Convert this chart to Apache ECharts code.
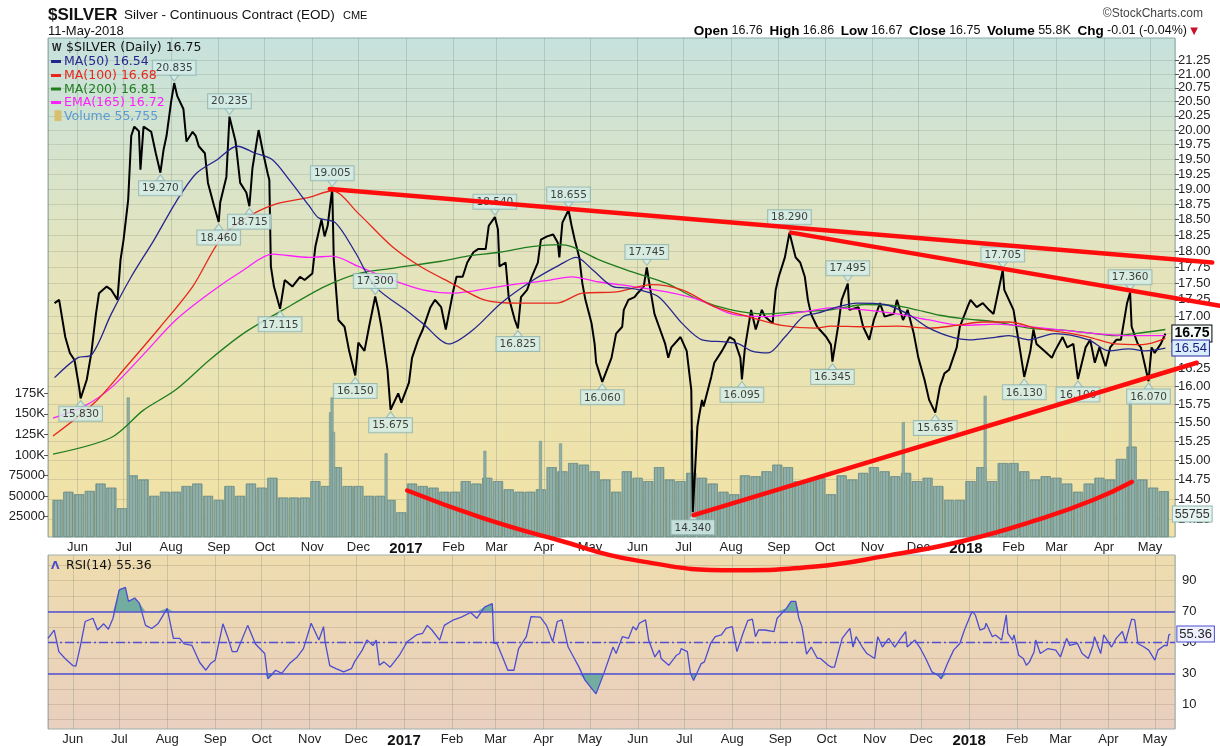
<!DOCTYPE html>
<html>
<head>
<meta charset="utf-8">
<title>$SILVER Daily</title>
<script src="https://cdn.jsdelivr.net/npm/echarts@6/dist/echarts.min.js"></script>
<style>
  html, body { margin: 0; padding: 0; background: #fff; }
  #chart { width: 1220px; height: 746px; }
</style>
</head>
<body>
<div id="chart"></div>
<script>
// values (daily silver, May 2016 - May 2018)
const closes = [
  ['2016-05-17',17.20],['2016-05-20',17.25],['2016-05-24',16.70],['2016-05-27',16.47],['2016-05-30',16.37],
  ['2016-06-02',15.99],['2016-06-03',15.83],['2016-06-07',16.09],['2016-06-10',16.47],['2016-06-13',17.04],
  ['2016-06-15',17.35],['2016-06-20',17.45],['2016-06-23',17.40],['2016-06-27',17.25],['2016-06-29',17.86],
  ['2016-07-01',18.18],['2016-07-04',18.82],['2016-07-06',19.90],['2016-07-08',20.06],['2016-07-11',19.98],
  ['2016-07-12',19.32],['2016-07-14',20.06],['2016-07-19',19.97],['2016-07-22',19.60],['2016-07-25',19.27],
  ['2016-07-27',19.65],['2016-07-29',19.90],['2016-08-01',20.50],['2016-08-03',20.835],['2016-08-05',20.60],
  ['2016-08-09',20.37],['2016-08-11',19.80],['2016-08-15',19.97],['2016-08-17',19.90],['2016-08-19',19.72],
  ['2016-08-23',19.60],['2016-08-25',19.10],['2016-08-29',18.72],['2016-09-01',18.46],['2016-09-02',18.78],
  ['2016-09-06',19.20],['2016-09-08',20.235],['2016-09-12',19.80],['2016-09-15',19.10],['2016-09-19',18.94],
  ['2016-09-21',18.715],['2016-09-23',19.35],['2016-09-27',20.00],['2016-09-30',19.60],['2016-10-03',19.25],
  ['2016-10-04',19.15],['2016-10-05',17.76],['2016-10-07',17.45],['2016-10-11',17.115],['2016-10-14',17.55],
  ['2016-10-19',17.45],['2016-10-24',17.60],['2016-10-27',17.55],['2016-11-01',17.65],['2016-11-03',18.07],
  ['2016-11-07',18.50],['2016-11-09',18.23],['2016-11-11',18.40],['2016-11-14',19.005],['2016-11-15',17.86],
  ['2016-11-17',17.25],['2016-11-18',16.95],['2016-11-22',16.85],['2016-11-25',16.50],['2016-11-29',16.15],
  ['2016-12-01',16.62],['2016-12-05',16.50],['2016-12-08',16.85],['2016-12-12',17.30],['2016-12-14',17.10],
  ['2016-12-16',16.85],['2016-12-20',16.23],['2016-12-22',15.675],['2016-12-27',15.90],['2016-12-29',15.77],
  ['2017-01-03',16.05],['2017-01-05',16.40],['2017-01-09',16.66],['2017-01-12',16.81],['2017-01-17',17.14],
  ['2017-01-20',17.25],['2017-01-24',17.14],['2017-01-27',16.81],['2017-02-01',17.40],['2017-02-03',17.60],
  ['2017-02-07',17.60],['2017-02-10',17.82],['2017-02-14',17.98],['2017-02-17',18.03],['2017-02-22',18.03],
  ['2017-02-24',18.40],['2017-02-28',18.54],['2017-03-02',18.34],['2017-03-03',17.76],['2017-03-07',17.82],
  ['2017-03-09',17.29],['2017-03-13',16.95],['2017-03-15',16.825],['2017-03-17',17.29],['2017-03-21',17.40],
  ['2017-03-24',17.60],['2017-03-28',17.82],['2017-03-30',18.18],['2017-04-03',18.23],['2017-04-07',18.26],
  ['2017-04-10',18.13],['2017-04-11',17.90],['2017-04-13',18.45],['2017-04-17',18.655],['2017-04-19',18.40],
  ['2017-04-21',18.18],['2017-04-24',17.90],['2017-04-26',17.50],['2017-04-28',17.25],['2017-05-02',16.90],
  ['2017-05-04',16.60],['2017-05-05',16.33],['2017-05-09',16.06],['2017-05-12',16.23],['2017-05-15',16.40],
  ['2017-05-18',16.75],['2017-05-22',16.85],['2017-05-23',17.10],['2017-05-26',17.25],['2017-05-30',17.29],
  ['2017-06-01',17.35],['2017-06-05',17.45],['2017-06-07',17.745],['2017-06-09',17.45],['2017-06-12',17.04],
  ['2017-06-15',16.85],['2017-06-19',16.60],['2017-06-21',16.40],['2017-06-23',16.55],['2017-06-29',16.70],
  ['2017-07-03',16.50],['2017-07-05',16.13],['2017-07-06',15.95],['2017-07-07',14.34],['2017-07-10',15.45],
  ['2017-07-11',15.58],['2017-07-13',15.81],['2017-07-14',15.72],['2017-07-19',16.13],['2017-07-21',16.33],
  ['2017-07-26',16.50],['2017-07-31',16.70],['2017-08-03',16.66],['2017-08-07',16.40],['2017-08-08',16.095],
  ['2017-08-10',16.55],['2017-08-14',17.10],['2017-08-17',16.81],['2017-08-21',17.10],['2017-08-23',17.00],
  ['2017-08-28',16.90],['2017-08-30',17.40],['2017-09-01',17.60],['2017-09-05',17.90],['2017-09-08',18.29],
  ['2017-09-12',17.90],['2017-09-15',17.82],['2017-09-18',17.60],['2017-09-20',17.25],['2017-09-22',17.04],
  ['2017-09-26',16.85],['2017-10-02',16.70],['2017-10-05',16.59],['2017-10-06',16.345],['2017-10-10',16.90],
  ['2017-10-12',17.25],['2017-10-16',17.495],['2017-10-17',17.10],['2017-10-23',17.14],['2017-10-26',16.85],
  ['2017-10-30',16.66],['2017-11-02',16.95],['2017-11-06',17.20],['2017-11-09',17.00],['2017-11-15',17.04],
  ['2017-11-17',17.25],['2017-11-21',16.95],['2017-11-24',17.10],['2017-11-28',16.75],['2017-12-01',16.40],
  ['2017-12-05',16.09],['2017-12-08',15.81],['2017-12-12',15.635],['2017-12-15',15.99],['2017-12-18',16.18],
  ['2017-12-21',16.23],['2017-12-26',16.55],['2017-12-28',16.85],['2018-01-02',17.14],['2018-01-04',17.25],
  ['2018-01-08',17.14],['2018-01-12',17.20],['2018-01-16',17.10],['2018-01-19',17.04],['2018-01-25',17.705],
  ['2018-01-26',17.40],['2018-01-29',17.25],['2018-02-01',17.10],['2018-02-05',16.55],['2018-02-08',16.13],
  ['2018-02-12',16.50],['2018-02-14',16.81],['2018-02-16',16.60],['2018-02-21',16.50],['2018-02-26',16.40],
  ['2018-02-28',16.50],['2018-03-05',16.70],['2018-03-08',16.55],['2018-03-12',16.60],['2018-03-15',16.10],
  ['2018-03-20',16.55],['2018-03-23',16.66],['2018-03-26',16.33],['2018-03-29',16.55],['2018-04-02',16.28],
  ['2018-04-05',16.55],['2018-04-09',16.66],['2018-04-12',16.66],['2018-04-16',17.20],['2018-04-18',17.36],
  ['2018-04-19',16.85],['2018-04-23',16.60],['2018-04-25',16.55],['2018-04-30',16.07],['2018-05-02',16.55],
  ['2018-05-04',16.47],['2018-05-08',16.60],['2018-05-11',16.75]
];

const ma50 = [
  ['2016-05-17',16.12],['2016-06-01',16.40],['2016-06-10',16.44],['2016-06-23',17.04],['2016-07-06',17.60],
  ['2016-07-21',18.18],['2016-08-04',18.78],['2016-08-17',19.25],['2016-08-31',19.49],['2016-09-13',19.72],
  ['2016-09-25',19.60],['2016-10-06',19.49],['2016-10-17',19.15],['2016-10-30',18.72],['2016-11-05',18.53],
  ['2016-11-16',18.45],['2016-11-29',17.98],['2016-12-12',17.45],['2017-01-02',17.08],['2017-01-12',16.90],
  ['2017-01-29',16.60],['2017-02-14',16.81],['2017-03-04',17.20],['2017-03-25',17.55],['2017-04-11',17.78],
  ['2017-04-22',17.90],['2017-05-03',17.70],['2017-05-16',17.45],['2017-05-25',17.43],['2017-06-02',17.40],
  ['2017-06-15',17.29],['2017-06-30',16.90],['2017-07-13',16.66],['2017-07-28',16.63],['2017-08-06',16.60],
  ['2017-08-14',16.50],['2017-08-25',16.47],['2017-09-05',16.70],['2017-09-17',17.00],['2017-09-26',17.05],
  ['2017-10-09',17.14],['2017-10-22',17.20],['2017-11-09',17.18],['2017-11-24',17.04],['2017-12-08',16.83],
  ['2017-12-24',16.69],['2018-01-03',16.66],['2018-01-21',16.70],['2018-01-29',16.72],['2018-02-11',16.66],
  ['2018-02-28',16.75],['2018-03-22',16.66],['2018-04-04',16.50],['2018-04-17',16.53],['2018-04-28',16.50],
  ['2018-05-11',16.54]
];

const ma100 = [
  ['2016-05-16',15.32],['2016-06-12',15.77],['2016-07-03',16.28],['2016-07-25',16.85],['2016-08-15',17.45],
  ['2016-09-02',18.18],['2016-09-17',18.50],['2016-10-08',18.75],['2016-10-30',18.86],['2016-11-14',18.97],
  ['2016-12-01',18.60],['2016-12-23',18.07],['2017-01-11',17.75],['2017-01-31',17.50],['2017-02-21',17.25],
  ['2017-03-15',17.20],['2017-04-09',17.20],['2017-04-26',17.35],['2017-05-18',17.37],['2017-06-10',17.48],
  ['2017-06-30',17.40],['2017-07-22',17.14],['2017-08-12',17.00],['2017-09-03',16.87],['2017-09-25',16.83],
  ['2017-10-05',16.86],['2017-10-27',16.85],['2017-11-17',16.86],['2017-12-08',16.83],['2017-12-26',16.87],
  ['2018-01-12',16.92],['2018-01-29',16.92],['2018-02-16',16.83],['2018-03-05',16.77],['2018-03-22',16.70],
  ['2018-04-08',16.60],['2018-04-26',16.59],['2018-05-11',16.68]
];

const ma200 = [
  ['2016-05-16',15.08],['2016-06-23',15.30],['2016-07-14',15.67],['2016-08-04',15.95],['2016-08-26',16.37],
  ['2016-09-17',16.75],['2016-10-13',17.10],['2016-11-09',17.45],['2016-12-01',17.65],['2016-12-23',17.73],
  ['2017-01-24',17.84],['2017-02-10',17.92],['2017-03-03',17.98],['2017-03-24',18.07],['2017-04-11',18.10],
  ['2017-04-19',18.07],['2017-05-07',17.86],['2017-05-29',17.67],['2017-06-20',17.50],['2017-07-11',17.25],
  ['2017-08-01',17.10],['2017-08-23',17.04],['2017-09-13',17.07],['2017-10-05',17.10],['2017-10-27',17.18],
  ['2017-11-17',17.16],['2017-11-30',17.10],['2017-12-15',17.02],['2017-12-30',16.97],['2018-01-21',16.92],
  ['2018-02-11',16.83],['2018-03-05',16.80],['2018-03-26',16.75],['2018-04-08',16.72],['2018-04-21',16.75],
  ['2018-05-11',16.81]
];

const ema165 = [
  ['2016-05-16',15.56],['2016-06-05',15.72],['2016-06-23',15.98],['2016-07-14',16.45],['2016-08-04',16.95],
  ['2016-08-26',17.35],['2016-09-17',17.70],['2016-10-06',17.95],['2016-10-30',17.90],['2016-11-14',17.92],
  ['2016-12-01',17.76],['2016-12-23',17.55],['2017-01-12',17.40],['2017-01-31',17.35],['2017-03-08',17.47],
  ['2017-04-05',17.55],['2017-04-19',17.60],['2017-05-07',17.52],['2017-05-29',17.45],['2017-06-20',17.37],
  ['2017-07-11',17.25],['2017-08-01',17.04],['2017-08-23',17.00],['2017-09-25',17.10],['2017-10-05',17.13],
  ['2017-10-27',17.10],['2017-11-17',17.04],['2017-12-08',16.95],['2017-12-30',16.87],['2018-01-21',16.89],
  ['2018-02-11',16.85],['2018-03-05',16.80],['2018-03-26',16.75],['2018-04-17',16.72],['2018-05-11',16.72]
];

// weekly volume (thousands of contracts), first week around 19 May 2016
const volStart = [2016, 4, 19];
const volWeekly = [
  45,55,52,56,65,60,35,75,70,50, 55,55,62,65,50,45,62,50,65,60,
  72,48,48,48,68,62,85,62,62,50, 50,45,30,65,62,60,55,55,68,65,
  72,68,58,55,55,58,85,80,90,88, 80,70,55,80,72,68,85,70,68,78,
  72,65,55,52,75,74,80,88,85,68, 68,72,52,75,70,78,85,80,74,78,
  68,72,62,45,45,68,85,68,90,90, 80,70,74,72,65,55,65,72,70,95,
  110,70,60,55.755
];
// single-day volume spikes (thousands)
const volSpikes = [
  ['2016-07-06',170],['2016-11-14',152],['2016-11-15',170],['2016-11-16',128],['2016-12-20',102],
  ['2017-02-22',105],['2017-03-30',117],['2017-04-12',114],['2017-07-06',130],['2017-11-20',140],
  ['2018-01-12',172],['2018-04-16',166]
];

const rsi14 = [
  ['2016-05-16',52.6],['2016-05-20',58],['2016-05-23',44],['2016-05-27',39.6],['2016-06-01',35],['2016-06-03',34.6],
  ['2016-06-06',48],['2016-06-09',63.5],['2016-06-14',65.6],['2016-06-17',58],['2016-06-21',62],['2016-06-24',58.5],
  ['2016-06-27',65.6],['2016-07-01',84],['2016-07-05',85.6],['2016-07-07',76.5],['2016-07-11',78.7],['2016-07-14',75.4],
  ['2016-07-18',61],['2016-07-22',59],['2016-07-26',62],['2016-08-01',72],['2016-08-05',52.6],['2016-08-09',52.6],
  ['2016-08-12',49],['2016-08-17',48],['2016-08-22',37],['2016-08-26',32],['2016-08-29',36.3],['2016-09-01',38.5],
  ['2016-09-06',62],['2016-09-09',53.7],['2016-09-12',44],['2016-09-15',44],['2016-09-22',61],['2016-09-27',49],
  ['2016-10-03',42.8],['2016-10-05',26.5],['2016-10-10',32],['2016-10-14',30],['2016-10-19',36.3],['2016-10-24',40.6],
  ['2016-10-28',46],['2016-11-02',62.4],['2016-11-07',51.5],['2016-11-10',60.2],['2016-11-11',50.4],['2016-11-14',35],
  ['2016-11-18',33],['2016-11-23',30.9],['2016-11-28',33],['2016-11-30',37.4],['2016-12-05',45],['2016-12-08',51.5],
  ['2016-12-12',48],['2016-12-14',51.5],['2016-12-16',35.2],['2016-12-19',37.4],['2016-12-23',34],['2016-12-29',41.7],
  ['2017-01-03',50.4],['2017-01-09',54.8],['2017-01-13',55.9],['2017-01-16',61],['2017-01-19',58],['2017-01-24',51.5],
  ['2017-01-27',61],['2017-02-02',64.6],['2017-02-07',66.3],['2017-02-13',69.3],['2017-02-17',65.6],['2017-02-22',72.8],
  ['2017-02-27',75],['2017-02-28',49.3],['2017-03-02',49.3],['2017-03-06',39.6],['2017-03-09',32],['2017-03-13',32],
  ['2017-03-16',46],['2017-03-21',53.7],['2017-03-24',66.7],['2017-03-30',66.3],['2017-04-03',61],['2017-04-07',50.4],
  ['2017-04-10',63.5],['2017-04-13',64.6],['2017-04-17',47],['2017-04-21',39.6],['2017-04-24',34],['2017-04-28',25.4],
  ['2017-05-05',16.7],['2017-05-10',29.8],['2017-05-16',47],['2017-05-18',42.8],['2017-05-22',53.7],['2017-05-26',52.6],
  ['2017-05-29',60.2],['2017-05-31',58],['2017-06-02',62.4],['2017-06-06',64.6],['2017-06-08',51.5],['2017-06-12',40.6],
  ['2017-06-15',45],['2017-06-16',39.6],['2017-06-21',35.2],['2017-06-26',41.7],['2017-06-28',42.8],['2017-06-29',46],
  ['2017-07-03',44],['2017-07-05',30],['2017-07-07',25.4],['2017-07-10',32],['2017-07-12',36.3],['2017-07-14',37.4],
  ['2017-07-18',49.3],['2017-07-21',53.7],['2017-07-25',54.8],['2017-07-28',59],['2017-08-01',60.2],['2017-08-04',44],
  ['2017-08-08',55.9],['2017-08-11',64],['2017-08-14',65],['2017-08-16',53.7],['2017-08-18',58],['2017-08-22',58],
  ['2017-08-28',57],['2017-08-30',65.6],['2017-09-05',72],['2017-09-08',76.5],['2017-09-11',76.5],['2017-09-13',65.6],
  ['2017-09-15',60.2],['2017-09-18',42.4],['2017-09-21',47],['2017-09-25',39.6],['2017-09-27',39.6],['2017-10-02',35.2],
  ['2017-10-04',34],['2017-10-06',34],['2017-10-11',52.6],['2017-10-16',59],['2017-10-18',47],['2017-10-20',53.7],
  ['2017-10-24',47],['2017-10-27',42.8],['2017-11-01',39.6],['2017-11-03',53.7],['2017-11-06',47],['2017-11-10',52.6],
  ['2017-11-14',47],['2017-11-17',51.5],['2017-11-21',57],['2017-11-22',47],['2017-11-27',51.5],['2017-11-30',47],
  ['2017-12-04',39.6],['2017-12-08',30.9],['2017-12-12',28.7],['2017-12-14',26.5],['2017-12-18',36.3],['2017-12-22',45],
  ['2017-12-26',49.3],['2017-12-29',58],['2018-01-02',67.8],['2018-01-03',70],['2018-01-05',67.8],['2018-01-08',58],
  ['2018-01-11',59],['2018-01-12',62.4],['2018-01-16',53.7],['2018-01-18',54.8],['2018-01-22',51.5],['2018-01-25',67.8],
  ['2018-01-26',55.9],['2018-01-29',51.5],['2018-01-30',54.8],['2018-02-02',41.7],['2018-02-05',39.6],['2018-02-07',35.2],
  ['2018-02-09',37.4],['2018-02-12',44],['2018-02-13',51.5],['2018-02-16',42.8],['2018-02-21',46],['2018-02-26',45],
  ['2018-03-01',40.6],['2018-03-05',52.6],['2018-03-07',48],['2018-03-12',49.3],['2018-03-15',42.8],['2018-03-19',39.6],
  ['2018-03-22',48],['2018-03-23',53.7],['2018-03-27',42.8],['2018-03-29',54.8],['2018-04-03',47],['2018-04-06',52.6],
  ['2018-04-10',57],['2018-04-12',50.4],['2018-04-16',65],['2018-04-18',64.6],['2018-04-20',49.3],['2018-04-24',47],
  ['2018-04-27',45],['2018-05-01',38.5],['2018-05-03',45],['2018-05-07',48],['2018-05-09',48],['2018-05-10',54.8],
  ['2018-05-11',55.36]
];

const pivotHighs = [
  ['2016-08-03',20.835],['2016-09-08',20.235],['2016-11-14',19.005],['2016-12-12',17.300],['2017-02-28',18.540],
  ['2017-04-17',18.655],['2017-06-07',17.745],['2017-09-08',18.290],['2017-10-16',17.495],['2018-01-25',17.705],
  ['2018-04-18',17.360]
];
const pivotLows = [
  ['2016-06-03',15.830],['2016-07-25',19.270],['2016-09-01',18.460],['2016-09-21',18.715],['2016-10-11',17.115],
  ['2016-11-29',16.150],['2016-12-22',15.675],['2017-03-15',16.825],['2017-05-09',16.060],['2017-07-07',14.340],
  ['2017-08-08',16.095],['2017-10-06',16.345],['2017-12-12',15.635],['2018-02-08',16.130],['2018-03-15',16.100],
  ['2018-04-30',16.070]
];

// hand-drawn annotations (date, price), they run past the last bar
const trendTop = [['2016-11-14',19.00],['2018-06-07',17.82]];
const trendMid = [['2017-09-08',18.29],['2018-06-12',17.16]];
const trendLow = [['2017-07-07',14.30],['2018-05-28',16.33]];
const volArc = [
  ['2017-01-03',14.61],['2017-02-20',14.27],['2017-04-11',13.99],['2017-05-30',13.75],['2017-08-04',13.63],
  ['2017-09-22',13.67],['2017-11-11',13.81],['2017-12-30',13.99],['2018-02-17',14.26],['2018-03-22',14.49],
  ['2018-04-16',14.72]
];

const priceTicks = [14.25,14.5,14.75,15,15.25,15.5,15.75,16,16.25,16.5,16.75,17,17.25,17.5,17.75,
  18,18.25,18.5,18.75,19,19.25,19.5,19.75,20,20.25,20.5,20.75,21,21.25];
const volTicks = [25000,50000,75000,100000,125000,150000,175000];
const rsiLabels = [10,30,50,70,90];
const rsiLines = [0,10,20,30,40,50,60,70,80,90,100];

const xMin = '2016-05-16';
const xMax = '2018-05-14';
const xMaxWide = '2018-06-12'; // same day width, carried out to the right edge of the page
const yMin = 14.03;
const yMax = 21.67;
const SANS = '"Liberation Sans", Arial, sans-serif';
const DEJA = '"DejaVu Sans", Verdana, sans-serif';

const volData = volWeekly.map((v, i) => {
  const t = new Date(volStart[0], volStart[1], volStart[2] + i * 7).getTime();
  return [t, Math.round(v * 1000)];
});
const lastVol = volData[volData.length - 1];
volData[volData.length - 1] = {
  value: lastVol,
  label: {
    show: true, position: 'right', distance: 4, formatter: String(lastVol[1]),
    fontFamily: SANS, fontSize: 12.5, color: '#333', backgroundColor: '#e6f4f1',
    borderColor: '#8fb5ae', borderWidth: 1, padding: [1, 2]
  }
};
const spikeData = volSpikes.map(d => [d[0], d[1] * 1000]);
const rsiHigh = rsi14.map(d => [d[0], Math.max(d[1], 70)]);
const rsiLow = rsi14.map(d => [d[0], Math.min(d[1], 30)]);

const timeLabel = {
  color: '#222', fontFamily: SANS, fontSize: 13, margin: 4,
  showMinLabel: false, showMaxLabel: false,
  formatter: { year: '{yr|{yyyy}}', month: '{MMM}', day: '', hour: '', minute: '', second: '', millisecond: '' },
  rich: { yr: { fontWeight: 'bold', fontSize: 15, color: '#111', fontFamily: SANS } }
};
const vGrid = { show: true, lineStyle: { color: 'rgba(120,140,125,0.30)', width: 1 } };

const volBarStyle = {
  color: '#8fafa7', borderColor: '#6f918a', borderWidth: 0.6,
  decal: { symbol: 'rect', symbolSize: 1, dashArrayX: [1, 1.3], dashArrayY: [4, 0], color: 'rgba(75,105,98,0.30)' }
};

function lineSeries(name, data, color, width, z) {
  return {
    name, type: 'line', xAxisIndex: 0, yAxisIndex: 0, data, z,
    symbol: 'none', smooth: 0.3, silent: true,
    lineStyle: { color, width }
  };
}

function pivotSeries(points, high) {
  return {
    type: 'scatter', xAxisIndex: 0, yAxisIndex: 0, z: 5, silent: true,
    symbol: 'triangle', symbolSize: [9, 6], symbolRotate: high ? 180 : 0,
    symbolOffset: [0, high ? -5 : 5],
    itemStyle: { color: '#d4eeea', borderColor: '#8fb3ae', borderWidth: 1 },
    label: {
      show: true, position: high ? 'top' : 'bottom', distance: 0,
      formatter: p => p.value[1].toFixed(3),
      fontFamily: DEJA, fontSize: 10.5, color: '#111',
      backgroundColor: '#d4eeea', borderColor: '#8fb3ae', borderWidth: 1, padding: [2, 3, 1, 3]
    },
    data: points
  };
}

function redLine(data, smooth) {
  return {
    type: 'line', xAxisIndex: 3, yAxisIndex: 3, data, z: 8, clip: false, silent: true,
    symbol: 'none', smooth: smooth ? 0.5 : false,
    lineStyle: { color: '#ff0d0d', width: 4.5, cap: 'round' }
  };
}

const chart = echarts.init(document.getElementById('chart'));

chart.setOption({
  animation: false,
  backgroundColor: '#ffffff',
  grid: [
    {
      left: 48, top: 38, width: 1127, height: 499, show: true, containLabel: false, outerBoundsMode: 'none',
      borderColor: '#90aaa6', borderWidth: 1,
      backgroundColor: new echarts.graphic.LinearGradient(0, 0, 0, 1, [
        { offset: 0, color: '#c6e2dd' }, { offset: 0.45, color: '#e4e4bd' }, { offset: 1, color: '#f3e2a3' }
      ])
    },
    {
      left: 48, top: 555, width: 1127, height: 174, show: true, containLabel: false, outerBoundsMode: 'none',
      borderColor: '#9fb0ae', borderWidth: 1,
      backgroundColor: new echarts.graphic.LinearGradient(0, 0, 0, 1, [
        { offset: 0, color: '#eedcae' }, { offset: 1, color: '#e9cfbf' }
      ])
    },
    // wider twin of the price panel for the hand-drawn lines that run past the axis
    { left: 48, top: 38, width: 1172, height: 499, show: false, containLabel: false, outerBoundsMode: 'none' }
  ],
  xAxis: [
    { type: 'time', gridIndex: 0, min: xMin, max: xMax, splitNumber: 24, minInterval: 28 * 86400000,
      axisLine: { show: false }, axisTick: { show: false }, axisLabel: timeLabel, splitLine: vGrid },
    { type: 'time', gridIndex: 1, min: xMin, max: xMax, splitNumber: 24, minInterval: 28 * 86400000,
      axisLine: { show: false }, axisTick: { show: false }, axisLabel: timeLabel, splitLine: vGrid },
    { type: 'time', gridIndex: 0, min: xMin, max: xMax, show: false },
    { type: 'time', gridIndex: 2, min: xMin, max: xMaxWide, show: false }
  ],
  yAxis: [
    {
      type: 'log', gridIndex: 0, position: 'right', min: yMin, max: yMax, logBase: 10,
      axisLine: { show: false },
      axisTick: { show: true, customValues: priceTicks, length: 4, lineStyle: { color: '#555' } },
      axisLabel: { customValues: priceTicks, formatter: v => v.toFixed(2), color: '#222',
        fontFamily: SANS, fontSize: 13, margin: 3 },
      splitLine: { show: true, lineStyle: { color: 'rgba(130,140,120,0.25)', width: 1 } }
    },
    {
      type: 'value', gridIndex: 0, position: 'left', min: 0, max: 608000,
      axisLine: { show: false },
      axisTick: { show: true, customValues: volTicks, length: 4, lineStyle: { color: '#555' } },
      axisLabel: { customValues: volTicks, color: '#222', fontFamily: SANS, fontSize: 13, margin: 3,
        formatter: v => (v >= 100000 ? (v / 1000) + 'K' : String(v)) },
      splitLine: { show: false }
    },
    {
      type: 'value', gridIndex: 1, position: 'right', min: -6, max: 106.5,
      axisLine: { show: false },
      axisTick: { show: true, customValues: rsiLines, length: 0 },
      axisLabel: { customValues: rsiLabels, color: '#222', fontFamily: SANS, fontSize: 13, margin: 7 },
      splitLine: { show: true, lineStyle: { color: 'rgba(150,130,110,0.28)', width: 1 } }
    },
    { type: 'log', gridIndex: 2, min: yMin, max: yMax, logBase: 10, show: false }
  ],
  series: [
    {
      name: 'Volume', type: 'bar', xAxisIndex: 0, yAxisIndex: 1, data: volData, z: 1, silent: true,
      barWidth: 10, itemStyle: volBarStyle
    },
    {
      name: 'Volume spikes', type: 'bar', xAxisIndex: 2, yAxisIndex: 1, data: spikeData, z: 1, silent: true,
      barWidth: 3, itemStyle: { color: '#8fafa7', borderColor: '#6f918a', borderWidth: 0.6 }
    },
    {
      name: '$SILVER', type: 'line', xAxisIndex: 0, yAxisIndex: 0, data: closes, z: 2, silent: true,
      symbol: 'none', lineStyle: { color: '#000', width: 2 },
      endLabel: { show: true, formatter: '16.75', distance: 7, fontFamily: SANS, fontSize: 14,
        fontWeight: 'bold', color: '#000', backgroundColor: '#f4fbf8', borderColor: '#000',
        borderWidth: 1, padding: [1, 2] }
    },
    lineSeries('MA(200)', ma200, '#1f7d1f', 1.3, 3),
    lineSeries('EMA(165)', ema165, '#ff1eff', 1.3, 3),
    lineSeries('MA(100)', ma100, '#e8261c', 1.3, 3),
    Object.assign(lineSeries('MA(50)', ma50, '#25258f', 1.3, 3), {
      endLabel: { show: true, formatter: '16.54', distance: 7, fontFamily: SANS, fontSize: 13,
        color: '#1a1a80', backgroundColor: '#d8eefa', borderColor: '#2b2ba8', borderWidth: 1, padding: [1, 2] }
    }),
    pivotSeries(pivotHighs, true),
    pivotSeries(pivotLows, false),
    redLine(trendTop),
    redLine(trendMid),
    redLine(trendLow),
    redLine(volArc, true),
    {
      name: 'RSI>70', type: 'line', xAxisIndex: 1, yAxisIndex: 2, data: rsiHigh, z: 1, silent: true,
      symbol: 'none', lineStyle: { width: 0 }, areaStyle: { origin: 70, color: '#72ad9f', opacity: 1 }
    },
    {
      name: 'RSI<30', type: 'line', xAxisIndex: 1, yAxisIndex: 2, data: rsiLow, z: 1, silent: true,
      symbol: 'none', lineStyle: { width: 0 }, areaStyle: { origin: 30, color: '#72ad9f', opacity: 1 }
    },
    {
      name: 'RSI(14)', type: 'line', xAxisIndex: 1, yAxisIndex: 2, data: rsi14, z: 3, silent: true,
      symbol: 'none', lineStyle: { color: '#4c4cd2', width: 1.3 },
      endLabel: { show: true, formatter: '55.36', distance: 7, fontFamily: SANS, fontSize: 13,
        color: '#222', backgroundColor: '#eef0ff', borderColor: '#4c4cd2', borderWidth: 1, padding: [1, 2] },
      markLine: {
        silent: true, symbol: 'none', label: { show: false },
        lineStyle: { color: '#5050d4', width: 1.6, type: 'solid' },
        data: [
          { yAxis: 70 }, { yAxis: 30 },
          { yAxis: 50, lineStyle: { type: [9, 3, 2, 3], width: 1.4 } }
        ]
      }
    }
  ],
  graphic: [
    { type: 'text', x: 48, y: 15, z: 100, style: { text: '$SILVER', font: 'bold 17px ' + SANS, fill: '#111', textVerticalAlign: 'middle' } },
    { type: 'text', x: 124, y: 15, z: 100, style: { text: 'Silver - Continuous Contract (EOD)', font: '13.5px ' + SANS, fill: '#111', textVerticalAlign: 'middle' } },
    { type: 'text', x: 343, y: 15.5, z: 100, style: { text: 'CME', font: '11px ' + SANS, fill: '#111', textVerticalAlign: 'middle' } },
    { type: 'text', x: 48, y: 31, z: 100, style: { text: '11-May-2018', font: '13px ' + SANS, fill: '#111', textVerticalAlign: 'middle' } },
    { type: 'text', x: 1203, y: 14, z: 100, style: { text: '\u00a9StockCharts.com', font: '12px ' + SANS, fill: '#444', textAlign: 'right', textVerticalAlign: 'middle' } },
    {
      type: 'text', x: 1198, y: 31, z: 100,
      style: {
        text: '{b|Open} {n|16.76}  {b|High} {n|16.86}  {b|Low} {n|16.67}  {b|Close} {n|16.75}  {b|Volume} {n|55.8K}  {b|Chg} {n|-0.01 (-0.04%)} {r|\u25bc}',
        textAlign: 'right', textVerticalAlign: 'middle',
        rich: {
          b: { fontFamily: SANS, fontSize: 13.5, fontWeight: 'bold', fill: '#000' },
          n: { fontFamily: SANS, fontSize: 12.5, fill: '#111' },
          r: { fontFamily: DEJA, fontSize: 10, fill: '#c8102e' }
        }
      }
    },
    // panel legends
    { type: 'text', x: 52, y: 48, z: 100, style: { text: 'W', font: 'bold 10px ' + SANS, fill: '#222', textVerticalAlign: 'middle' } },
    { type: 'text', x: 66, y: 48, z: 100, style: { text: '$SILVER (Daily) 16.75', font: '12.5px ' + DEJA, fill: '#111', textVerticalAlign: 'middle' } },
    { type: 'rect', z: 100, shape: { x: 51, y: 60, width: 10, height: 3 }, style: { fill: '#25258f' } },
    { type: 'text', x: 64, y: 62, z: 100, style: { text: 'MA(50) 16.54', font: '12.5px ' + DEJA, fill: '#25258f', textVerticalAlign: 'middle' } },
    { type: 'rect', z: 100, shape: { x: 51, y: 74, width: 10, height: 3 }, style: { fill: '#e8261c' } },
    { type: 'text', x: 64, y: 76, z: 100, style: { text: 'MA(100) 16.68', font: '12.5px ' + DEJA, fill: '#e8261c', textVerticalAlign: 'middle' } },
    { type: 'rect', z: 100, shape: { x: 51, y: 87.5, width: 10, height: 3 }, style: { fill: '#1f7d1f' } },
    { type: 'text', x: 64, y: 89.5, z: 100, style: { text: 'MA(200) 16.81', font: '12.5px ' + DEJA, fill: '#1f7d1f', textVerticalAlign: 'middle' } },
    { type: 'rect', z: 100, shape: { x: 51, y: 101, width: 10, height: 3 }, style: { fill: '#ff1eff' } },
    { type: 'text', x: 64, y: 103, z: 100, style: { text: 'EMA(165) 16.72', font: '12.5px ' + DEJA, fill: '#ff1eff', textVerticalAlign: 'middle' } },
    { type: 'text', x: 51, y: 116.5, z: 100, style: { text: '\u2590\u258c', font: '9px ' + DEJA, fill: '#d8c070', textVerticalAlign: 'middle' } },
    { type: 'text', x: 64, y: 116.5, z: 100, style: { text: 'Volume 55,755', font: '12.5px ' + DEJA, fill: '#5b9bd0', textVerticalAlign: 'middle' } },
    { type: 'text', x: 66, y: 566, z: 100, style: { text: 'RSI(14) 55.36', font: '12.5px ' + DEJA, fill: '#111', textVerticalAlign: 'middle' } },
    { type: 'text', x: 51, y: 566, z: 100, style: { text: '\u039b', font: 'bold 11px ' + DEJA, fill: '#4c4cd2', textVerticalAlign: 'middle' } }
  ]
});
</script>
</body>
</html>
